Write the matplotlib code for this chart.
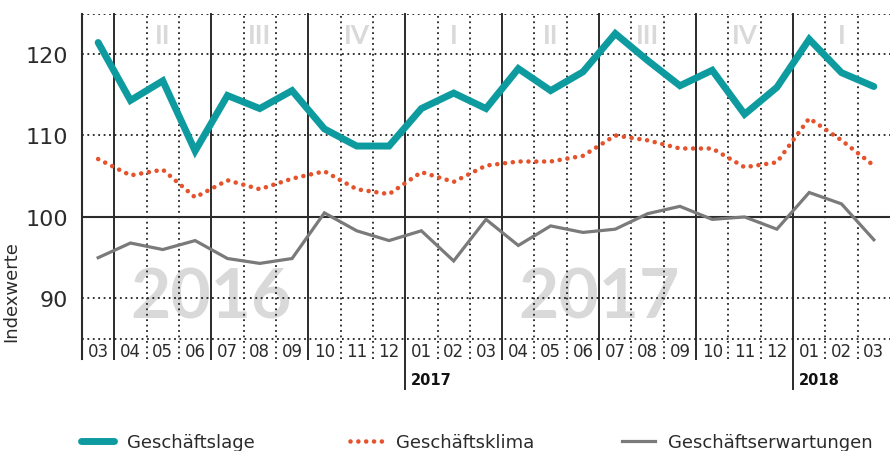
import matplotlib.pyplot as plt
import matplotlib.transforms as mtransforms
from matplotlib.lines import Line2D

plt.rcParams["font.family"] = ["DejaVu Sans"]

months = ["03", "04", "05", "06", "07", "08", "09", "10", "11", "12",
          "01", "02", "03", "04", "05", "06", "07", "08", "09", "10", "11", "12",
          "01", "02", "03"]
geschaeftslage = [121.4, 114.3, 116.7, 108.1, 114.9, 113.3, 115.5, 110.8, 108.7, 108.7,
                  113.3, 115.2, 113.3, 118.2, 115.5, 117.8, 122.5, 119.2, 116.1, 118.0,
                  112.6, 115.9, 121.8, 117.7, 116.0]
geschaeftsklima = [107.1, 105.1, 105.8, 102.4, 104.5, 103.4, 104.7, 105.6, 103.4, 102.8,
                   105.5, 104.3, 106.3, 106.8, 106.8, 107.5, 110.0, 109.4, 108.4, 108.4,
                   106.1, 106.7, 112.1, 109.4, 106.3]
geschaeftserwartungen = [95.0, 96.8, 96.0, 97.1, 94.9, 94.3, 94.9, 100.5, 98.3, 97.1,
                         98.3, 94.6, 99.7, 96.5, 98.9, 98.1, 98.5, 100.4, 101.3, 99.7,
                         100.0, 98.5, 103.0, 101.6, 97.2]
series_names = ["Geschäftslage", "Geschäftsklima", "Geschäftserwartungen"]
quarter_labels = ["II", "III", "IV", "I", "II", "III", "IV", "I"]
quarter_centers = [2, 5, 8, 11, 14, 17, 20, 23]
big_years = ["2016", "2017"]
big_year_pos = [3.5, 15.5]
year_marks = ["2017", "2018"]
year_mark_pos = [9.5, 21.5]

x = list(range(len(months)))
TEAL = "#0e9ba0"
ORANGE = "#e4532c"
GREY = "#7a7a7a"
LIGHT = "#d9d9d9"
DARK = "#2b2b2b"

fig = plt.figure(figsize=(8.9, 4.52), dpi=100)
ax = fig.add_axes([82 / 890, 1 - 360 / 452, 808 / 890, 345 / 452])
ax.set_xlim(-0.5, len(months) - 0.5)
ax.set_ylim(82.57, 124.9)

# grid: dotted month lines, solid quarter lines (year ones run down to the year label)
for i in range(1, len(months)):
    b = i - 0.5
    if i % 3 == 1:
        ext = -0.087 if i in (10, 22) else 0
        ax.axvline(b, ymin=ext, ymax=1, color=DARK, lw=1.4, zorder=1, clip_on=False)
    else:
        ax.axvline(b, color="#222222", lw=1.3, ls=(0, (1, 2)), zorder=1)
for yv in [85, 90, 110, 120, 124.9]:
    ax.axhline(yv, color="#222222", lw=1.3, ls=(0, (1, 2)), zorder=1)
ax.axhline(100, color=DARK, lw=1.5, zorder=1)

trans = mtransforms.blended_transform_factory(ax.transData, ax.transAxes)
for q, c in zip(quarter_labels, quarter_centers):
    ax.text(c, 0.94, q, transform=trans, ha="center", va="center", family="Lato",
            fontsize=19, fontweight="bold", color=LIGHT, zorder=0)
for yr, p in zip(big_years, big_year_pos):
    ax.text(p, 90, yr, ha="center", va="center", fontsize=50, family="Lato",
            fontweight="bold", color=LIGHT, zorder=0)
for m, i in zip(months, x):
    ax.text(i, 0.024, m, transform=trans, ha="center", va="center",
            fontsize=12, color=DARK)
for yr, p in zip(year_marks, year_mark_pos):
    ax.text(p + 0.17, -0.06, yr, transform=trans, ha="left", va="center",
            fontsize=10.5, fontweight="bold", color="#111111")

ax.plot(x, geschaeftserwartungen, color=GREY, lw=2.3, zorder=3,
        solid_joinstyle="miter")
ax.plot(x, geschaeftsklima, color=ORANGE, lw=3.3, zorder=3,
        ls=(0, (0.01, 1.7)), dash_capstyle="round")
ax.plot(x, geschaeftslage, color=TEAL, lw=5, zorder=4,
        solid_joinstyle="miter", solid_capstyle="round")

for s in ["top", "right", "bottom"]:
    ax.spines[s].set_visible(False)
ax.spines["left"].set_color(DARK)
ax.spines["left"].set_linewidth(1.5)
ax.set_xticks([])
ax.set_yticks([90, 100, 110, 120])
ax.tick_params(axis="y", length=0, pad=10, labelsize=16, labelcolor=DARK)
ax.set_ylabel("Indexwerte", fontsize=13, color=DARK)
ax.yaxis.set_label_coords(-0.077, 0.197)

handles = [
    Line2D([], [], color=TEAL, lw=5, solid_capstyle="round"),
    Line2D([], [], color=ORANGE, lw=3.3, ls=(0, (0.01, 1.7)), dash_capstyle="round"),
    Line2D([], [], color=GREY, lw=2.3),
]
for h, name, left in zip(handles, series_names, [81, 350, 622]):
    fig.legend([h], [name], loc="center left", bbox_to_anchor=(left / 890, 1 - 443 / 452),
               frameon=False, fontsize=13, handlelength=1.85, handletextpad=0.7,
               borderpad=0, borderaxespad=0, labelcolor=DARK)

fig.savefig("out.png", dpi=100)
